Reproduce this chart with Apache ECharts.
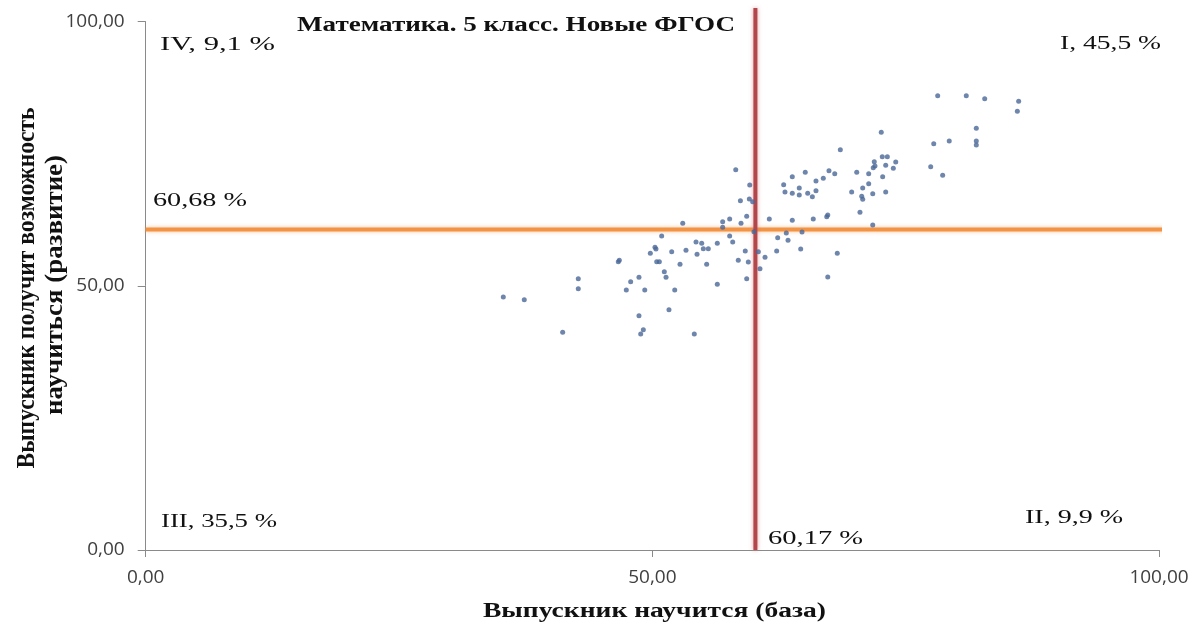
<!DOCTYPE html>
<html><head><meta charset="utf-8">
<script src="https://cdn.jsdelivr.net/npm/echarts@6/dist/echarts.min.js"></script>
<style>html,body{margin:0;padding:0;background:#fff}#c{width:1193px;height:629px}</style>
</head><body><div id="c"></div><script>
// Data: x = "Выпускник научится (база)", y = "Выпускник получит возможность научиться (развитие)"
const baseScores = [50.92,50.26,50.36,49.80,51.91,53.32,46.64,46.74,50.43,50.69,52.73,51.18,51.35,48.68,47.86,42.69,42.69,47.43,49.25,52.21,35.29,37.36,51.64,48.68,49.11,48.85,41.15,54.14,56.41,59.31,58.48,59.47,61.12,60.62,62.27,59.17,55.36,54.41,68.55,58.23,65.09,67.43,68.00,70.17,63.81,66.87,66.15,59.61,62.96,64.50,66.15,69.67,63.09,63.81,64.50,65.33,65.79,58.69,59.57,59.90,67.21,67.31,59.31,57.63,56.94,61.54,63.81,65.88,53.00,58.75,56.94,60.03,57.63,57.93,62.37,63.22,63.39,64.77,54.31,54.87,55.03,55.52,56.41,64.64,68.25,67.31,60.46,78.16,80.98,82.80,86.15,86.02,72.59,81.97,77.77,79.30,81.97,81.97,77.47,78.65,72.69,73.19,71.90,74.02,73.03,71.80,71.97,73.78,71.35,72.73,71.35,70.76,71.75,73.03,70.66,70.76,70.49,71.75];
const devScores = [59.44,57.30,56.98,56.16,56.46,56.73,54.57,54.84,54.57,54.57,54.08,52.68,51.62,51.62,50.79,51.35,49.46,49.21,49.21,49.21,47.89,47.38,45.49,44.35,41.70,40.89,41.21,40.89,50.29,51.35,54.84,54.51,55.40,53.25,56.60,56.60,54.08,55.97,75.77,71.99,71.49,71.80,71.23,71.49,70.66,70.36,69.85,69.09,69.15,68.52,68.01,67.76,67.76,67.52,67.20,67.52,66.88,66.12,66.44,65.93,63.09,63.41,63.17,62.65,62.14,62.65,62.41,62.65,61.84,61.84,61.08,60.25,59.44,58.30,59.11,60.00,58.62,60.19,58.30,58.05,57.03,57.03,58.05,56.98,56.16,51.68,56.46,85.99,85.99,85.43,84.93,83.04,79.07,79.82,76.91,77.42,77.42,76.66,72.55,70.93,74.45,74.45,73.50,73.44,72.82,72.36,72.69,72.25,71.23,70.66,69.34,68.52,67.44,67.76,66.95,66.38,63.92,61.52];
const avgBase = 60.17;   // vertical line
const avgDev = 60.68;    // horizontal line
const axisMin = 0, axisMax = 100, axisStep = 50;
const quadrantLabels = ['I, 45,5 %', 'II, 9,9 %', 'III, 35,5 %', 'IV, 9,1 %'];
const chartTitle = 'Математика. 5 класс. Новые ФГОС';
const xTitle = 'Выпускник научится (база)';
const yTitle1 = 'Выпускник получит возможность';
const yTitle2 = 'научиться (развитие)';

const fmt = v => v.toFixed(2).replace('.', ',');
const pts = baseScores.map((x, i) => [x, devScores[i]]);

const mctx = document.createElement('canvas').getContext('2d');
function txt(s, font, x, y, w, extra) {
  mctx.font = font;
  const mw = mctx.measureText(s).width;
  return Object.assign({
    type: 'text', x: x, y: y, scaleX: w / mw, z: 100, silent: true,
    style: { text: s, font: font, fill: '#111', align: 'left', verticalAlign: 'middle', textAlign: 'left', textVerticalAlign: 'middle' }
  }, extra || {});
}
const serif = '"Liberation Serif", "Times New Roman", serif';
const F_reg = '19px ' + serif;
const F_bold = 'bold 20px ' + serif;

const graphics = [
  txt(chartTitle, F_bold, 297, 26, 438),
  txt(quadrantLabels[3], F_reg, 160, 45, 115),
  txt(quadrantLabels[0], F_reg, 1060, 44, 101),
  txt(quadrantLabels[2], F_reg, 161, 522, 116),
  txt(quadrantLabels[1], F_reg, 1025, 518, 98),
  txt(fmt(avgDev) + ' %', F_reg, 153, 201, 94),
  txt(fmt(avgBase) + ' %', F_reg, 768, 539, 95),
  txt(xTitle, F_bold, 483, 612, 343),
];
function vtxt(s, cx, cy, len) {
  mctx.font = F_bold;
  const mw = mctx.measureText(s).width;
  return { type: 'text', x: cx, y: cy, rotation: Math.PI / 2, scaleX: len / mw, scaleY: 1.25, z: 100, silent: true,
    style: { text: s, font: F_bold, fill: '#111', align: 'center', verticalAlign: 'middle', textAlign: 'center', textVerticalAlign: 'middle' } };
}
graphics.push(vtxt(yTitle1, 28, 288, 361));
graphics.push(vtxt(yTitle2, 56, 285, 260));

const axisCommon = {
  type: 'value', min: axisMin, max: axisMax, interval: axisStep,
  splitLine: { show: false },
  axisLine: { show: true, lineStyle: { color: '#8a8a8a', width: 1 } },
  axisLabel: { formatter: fmt, fontFamily: '"Open Sans", sans-serif', fontSize: 19, color: '#404040' }
};

const refLine = (data, color, shadow) => ({
  type: 'line', data: data, showSymbol: false, symbol: 'none', clip: false, silent: true, z: 2,
  lineStyle: { color: color, width: 4, shadowBlur: 4, shadowColor: shadow }
});

const chart = echarts.init(document.getElementById('c'));
chart.setOption({
  animation: false,
  backgroundColor: '#fff',
  grid: { left: 145.7, right: 34, top: 21.7, bottom: 79, containLabel: false, outerBoundsMode: 'none' },
  xAxis: Object.assign({}, axisCommon, {
    axisTick: { show: true, length: 7, lineStyle: { color: '#8a8a8a' } },
    axisLabel: Object.assign({}, axisCommon.axisLabel, { margin: 18 })
  }),
  yAxis: Object.assign({}, axisCommon, {
    axisTick: { show: true, length: 8, lineStyle: { color: '#8a8a8a' } },
    axisLabel: Object.assign({}, axisCommon.axisLabel, { margin: 21 })
  }),
  graphic: graphics,
  series: [
    refLine([[axisMin, avgDev], [103.4, avgDev]], '#f39445', 'rgba(245,160,90,0.6)'),
    refLine([[avgBase, axisMin], [avgBase, 102.6]], '#b2464b', 'rgba(210,120,120,0.7)'),
    { type: 'scatter', data: pts, symbolSize: 5, z: 10, itemStyle: { color: '#4a6797' } }
  ]
});
</script></body></html>
